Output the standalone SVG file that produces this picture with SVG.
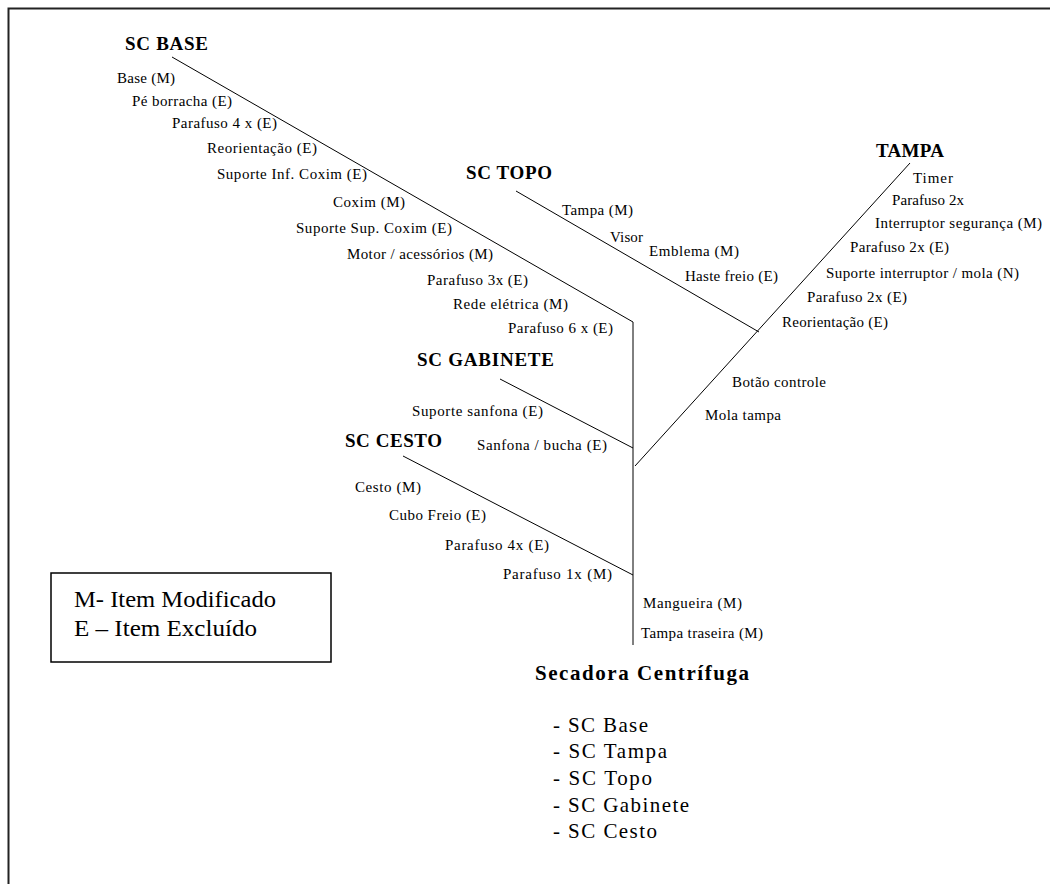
<svg xmlns="http://www.w3.org/2000/svg" width="1050" height="884" viewBox="0 0 1050 884">
<style>
.lbl{font-family:"Liberation Serif","Times New Roman",serif;font-size:15px;fill:#000}
.hd{font-family:"Liberation Serif","Times New Roman",serif;font-size:19px;font-weight:bold;fill:#000}
.ttl{font-family:"Liberation Serif","Times New Roman",serif;font-size:21px;font-weight:bold;fill:#000}
.lst{font-family:"Liberation Serif","Times New Roman",serif;font-size:21px;fill:#000}
.leg{font-family:"Liberation Serif","Times New Roman",serif;font-size:24px;fill:#000}
.ln{stroke:#000;stroke-width:1;fill:none}
</style>
<rect width="1050" height="884" fill="#fff"/>
<path d="M8.5 884 V8.5 H1050" fill="none" stroke="#222" stroke-width="2"/>
<g id="connectors">
<line class="ln" x1="172" y1="57" x2="633" y2="322"/>
<line class="ln" x1="633" y1="322" x2="633" y2="645"/>
<line class="ln" x1="516" y1="191" x2="759" y2="332"/>
<line class="ln" x1="910" y1="163" x2="635" y2="466"/>
<line class="ln" x1="500" y1="379" x2="633" y2="448"/>
<line class="ln" x1="403" y1="456" x2="633" y2="575"/>
</g>
<g id="sc-base">
<text class="hd" x="125" y="50" textLength="83" lengthAdjust="spacing">SC BASE</text>
<text class="lbl" x="117" y="83" textLength="58" lengthAdjust="spacing">Base (M)</text>
<text class="lbl" x="132" y="106" textLength="100" lengthAdjust="spacing">Pé borracha (E)</text>
<text class="lbl" x="172" y="128" textLength="105" lengthAdjust="spacing">Parafuso 4 x (E)</text>
<text class="lbl" x="207" y="153" textLength="110" lengthAdjust="spacing">Reorientação (E)</text>
<text class="lbl" x="217" y="179" textLength="150" lengthAdjust="spacing">Suporte Inf. Coxim (E)</text>
<text class="lbl" x="333" y="207" textLength="72" lengthAdjust="spacing">Coxim (M)</text>
<text class="lbl" x="296" y="233" textLength="156" lengthAdjust="spacing">Suporte Sup. Coxim (E)</text>
<text class="lbl" x="347" y="259" textLength="146" lengthAdjust="spacing">Motor / acessórios (M)</text>
<text class="lbl" x="427" y="285" textLength="101" lengthAdjust="spacing">Parafuso 3x (E)</text>
<text class="lbl" x="453" y="309" textLength="115" lengthAdjust="spacing">Rede elétrica (M)</text>
<text class="lbl" x="508" y="333" textLength="105" lengthAdjust="spacing">Parafuso 6 x (E)</text>
</g>
<g id="sc-topo">
<text class="hd" x="466" y="179" textLength="86" lengthAdjust="spacing">SC TOPO</text>
<text class="lbl" x="562" y="215" textLength="71" lengthAdjust="spacing">Tampa (M)</text>
<text class="lbl" x="610" y="242" textLength="33" lengthAdjust="spacing">Visor</text>
<text class="lbl" x="649" y="256" textLength="90" lengthAdjust="spacing">Emblema (M)</text>
<text class="lbl" x="685" y="281" textLength="93" lengthAdjust="spacing">Haste freio (E)</text>
</g>
<g id="tampa">
<text class="hd" x="876" y="157" textLength="68" lengthAdjust="spacing">TAMPA</text>
<text class="lbl" x="913" y="183" textLength="40" lengthAdjust="spacing">Timer</text>
<text class="lbl" x="892" y="205" textLength="72" lengthAdjust="spacing">Parafuso 2x</text>
<text class="lbl" x="875" y="228" textLength="167" lengthAdjust="spacing">Interruptor segurança (M)</text>
<text class="lbl" x="850" y="252" textLength="99" lengthAdjust="spacing">Parafuso 2x (E)</text>
<text class="lbl" x="826" y="278" textLength="193" lengthAdjust="spacing">Suporte interruptor / mola (N)</text>
<text class="lbl" x="807" y="302" textLength="100" lengthAdjust="spacing">Parafuso 2x (E)</text>
<text class="lbl" x="782" y="327" textLength="106" lengthAdjust="spacing">Reorientação (E)</text>
<text class="lbl" x="732" y="387" textLength="94" lengthAdjust="spacing">Botão controle</text>
<text class="lbl" x="705" y="420" textLength="76" lengthAdjust="spacing">Mola tampa</text>
</g>
<g id="sc-gabinete">
<text class="hd" x="417" y="366" textLength="137" lengthAdjust="spacing">SC GABINETE</text>
<text class="lbl" x="412" y="416" textLength="131" lengthAdjust="spacing">Suporte sanfona (E)</text>
<text class="lbl" x="477" y="450" textLength="130" lengthAdjust="spacing">Sanfona / bucha (E)</text>
</g>
<g id="sc-cesto">
<text class="hd" x="345" y="447" textLength="97" lengthAdjust="spacing">SC CESTO</text>
<text class="lbl" x="355" y="492" textLength="66" lengthAdjust="spacing">Cesto (M)</text>
<text class="lbl" x="389" y="520" textLength="97" lengthAdjust="spacing">Cubo Freio (E)</text>
<text class="lbl" x="445" y="550" textLength="104" lengthAdjust="spacing">Parafuso 4x (E)</text>
<text class="lbl" x="503" y="579" textLength="109" lengthAdjust="spacing">Parafuso 1x (M)</text>
</g>
<g id="secadora">
<text class="lbl" x="643" y="608" textLength="99" lengthAdjust="spacing">Mangueira (M)</text>
<text class="lbl" x="641" y="638" textLength="122" lengthAdjust="spacing">Tampa traseira (M)</text>
<text class="ttl" x="535" y="680" textLength="214" lengthAdjust="spacing">Secadora Centrífuga</text>
<text class="lst" x="553" y="732" textLength="95" lengthAdjust="spacing">- SC Base</text>
<text class="lst" x="553" y="758" textLength="114" lengthAdjust="spacing">- SC Tampa</text>
<text class="lst" x="553" y="785" textLength="99" lengthAdjust="spacing">- SC Topo</text>
<text class="lst" x="553" y="812" textLength="136" lengthAdjust="spacing">- SC Gabinete</text>
<text class="lst" x="553" y="838" textLength="104" lengthAdjust="spacing">- SC Cesto</text>
</g>
<g id="legend">
<rect x="51" y="573" width="280" height="89" fill="#fff" stroke="#000" stroke-width="1.5"/>
<text class="leg" x="74" y="607" textLength="202" lengthAdjust="spacingAndGlyphs">M- Item Modificado</text>
<text class="leg" x="74" y="636" textLength="183" lengthAdjust="spacingAndGlyphs">E – Item Excluído</text>
</g>
</svg>
